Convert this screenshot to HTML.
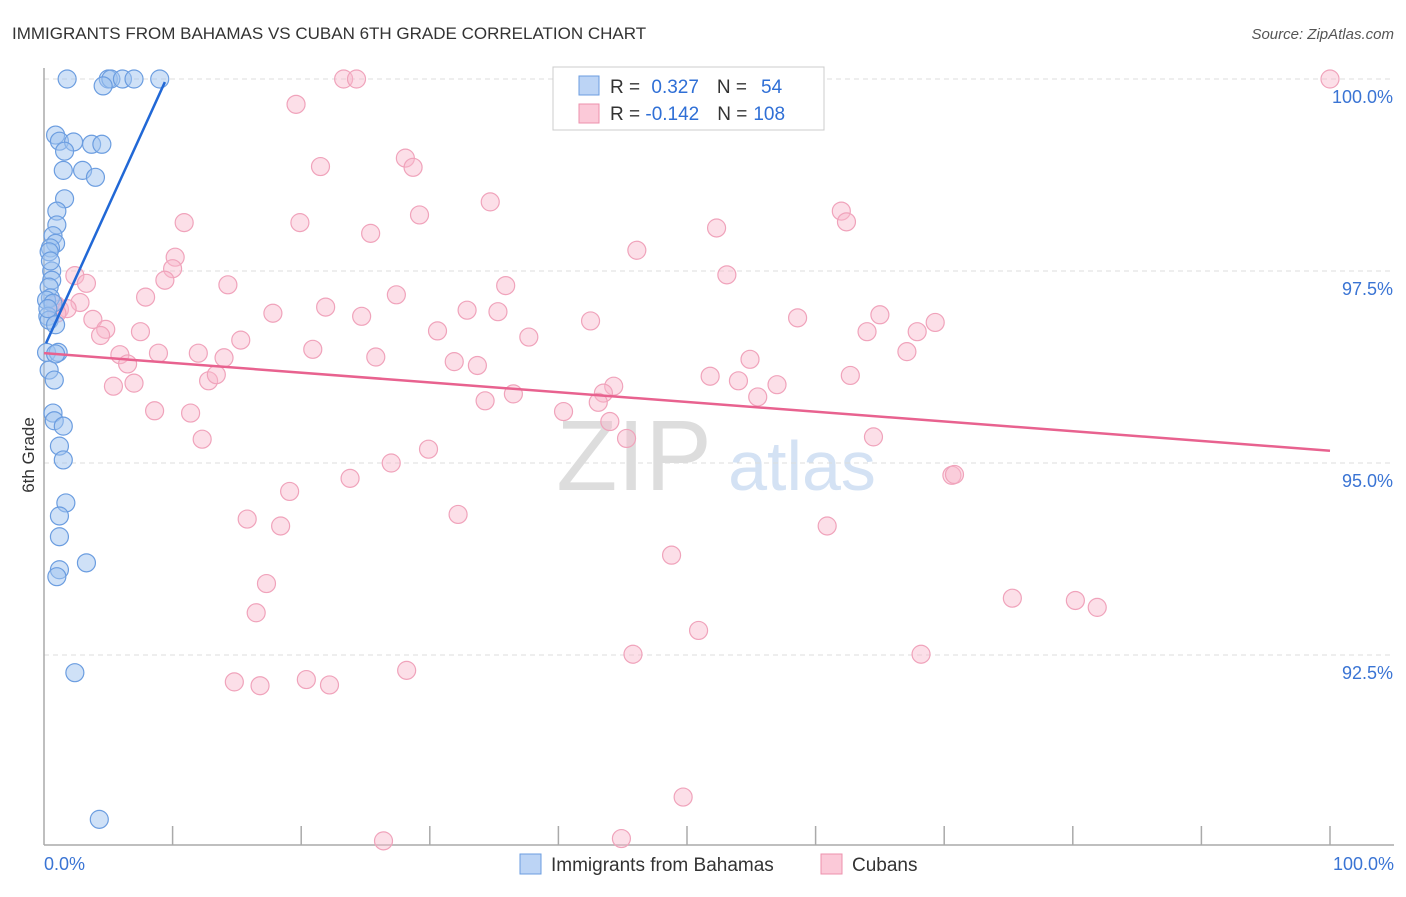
<!DOCTYPE html>
<html><head><meta charset="utf-8"><style>
body{margin:0;background:#fff;font-family:"Liberation Sans",sans-serif;}
svg text{font-family:"Liberation Sans",sans-serif;}
</style></head><body>
<svg width="1406" height="892" xmlns="http://www.w3.org/2000/svg">
<text x="12" y="39" font-size="17" fill="#333">IMMIGRANTS FROM BAHAMAS VS CUBAN 6TH GRADE CORRELATION CHART</text>
<text x="1394" y="39" font-size="15" fill="#555" font-style="italic" text-anchor="end">Source: ZipAtlas.com</text>
<text x="0" y="0" transform="translate(34,455) rotate(-90)" font-size="17" fill="#333" text-anchor="middle">6th Grade</text>
<text x="634" y="490" font-size="100" fill="#ddd" font-family="Liberation Serif" text-anchor="middle">ZIP</text>
<text x="802" y="490" font-size="70" fill="#d4e2f4" text-anchor="middle">atlas</text>
<g id="grid"></g><g id="axes"></g><g id="pts"></g><g id="lines"></g>
<g>
<rect x="553" y="67" width="271" height="63" fill="#fff" stroke="#ccc"/>
<rect x="579" y="76" width="20" height="19" fill="#bcd4f5" stroke="#6b9de0"/>
<rect x="579" y="104" width="20" height="19" fill="#fbc9d8" stroke="#ec91ad"/>
<text x="610" y="93" font-size="19" fill="#333">R = <tspan fill="#2f6fd6" dx="6">0.327</tspan><tspan dx="18" fill="#333">N =</tspan><tspan dx="14" fill="#2f6fd6">54</tspan></text>
<text x="610" y="120" font-size="19" fill="#333">R = <tspan fill="#2f6fd6">-0.142</tspan><tspan dx="18" fill="#333">N =</tspan><tspan dx="6" fill="#2f6fd6">108</tspan></text>
</g>
<g>
<rect x="520" y="854" width="21" height="20" fill="#bcd4f5" stroke="#6b9de0"/>
<text x="551" y="871" font-size="19" fill="#333">Immigrants from Bahamas</text>
<rect x="821" y="854" width="21" height="20" fill="#fbc9d8" stroke="#ec91ad"/>
<text x="852" y="871" font-size="19" fill="#333">Cubans</text>
</g>
</svg>
<script>
const yTicks=[100,97.5,95,92.5];
const yTickLabels=["100.0%","97.5%","95.0%","92.5%"];
const xTickLabels=["0.0%","100.0%"];
const bahamasX=[1.8,5.0,5.2,6.1,7.0,9.0,4.6,0.9,1.2,2.3,3.7,4.5,1.6,3.0,1.5,4.0,1.6,1.0,1.0,0.7,0.9,0.5,0.4,0.6,0.6,0.4,0.5,0.2,0.7,0.3,0.4,0.2,1.1,0.9,0.4,0.8,0.7,0.8,1.5,1.2,1.5,1.7,1.2,1.2,1.2,1.0,3.3,2.4,4.3,0.5,0.3,0.9];
const bahamasY=[100,100,100,100,100,100,99.91,99.27,99.19,99.18,99.15,99.15,99.06,98.81,98.81,98.72,98.44,98.28,98.10,97.96,97.86,97.80,97.75,97.50,97.38,97.29,97.15,97.12,97.08,96.91,96.86,96.44,96.44,96.42,96.21,96.08,95.65,95.55,95.48,95.22,95.04,94.48,94.31,94.04,93.61,93.52,93.70,92.27,90.36,97.63,97.01,96.80];
const cubanX=[23.3,24.3,100,19.6,21.5,28.1,28.7,34.7,29.2,10.9,19.9,25.4,52.3,62.0,62.4,46.1,10.2,10.0,9.4,2.4,3.3,7.9,14.3,2.8,0.9,1.2,1.8,1.0,3.8,4.8,4.4,7.5,17.8,21.9,24.7,27.4,32.9,35.3,35.9,42.5,30.6,37.7,15.3,20.9,8.9,5.9,12.0,14.0,25.8,31.9,33.7,6.5,5.4,7.0,12.8,13.4,51.8,54.0,54.9,57.0,55.5,58.6,65.0,64.0,67.9,69.3,67.1,62.7,44.3,43.5,36.5,34.3,43.1,40.4,44.0,45.3,8.6,11.4,12.3,29.9,27.0,23.8,19.1,15.8,18.4,32.2,64.5,70.6,70.8,60.9,48.8,17.3,16.5,75.3,80.2,81.9,50.9,45.8,68.2,28.2,14.8,16.8,20.4,22.2,49.7,26.4,44.9,53.1];
const cubanY=[100,100,100,99.67,98.86,98.97,98.85,98.40,98.23,98.13,98.13,97.99,98.06,98.28,98.14,97.77,97.68,97.53,97.38,97.44,97.34,97.16,97.32,97.09,97.06,97.00,97.01,96.95,96.87,96.74,96.66,96.71,96.95,97.03,96.91,97.19,96.99,96.97,97.31,96.85,96.72,96.64,96.60,96.48,96.43,96.41,96.43,96.37,96.38,96.32,96.27,96.29,96.00,96.04,96.07,96.15,96.13,96.07,96.35,96.02,95.86,96.89,96.93,96.71,96.71,96.83,96.45,96.14,96.00,95.91,95.90,95.81,95.79,95.67,95.54,95.32,95.68,95.65,95.31,95.18,95.00,94.80,94.63,94.27,94.18,94.33,95.34,94.84,94.85,94.18,93.80,93.43,93.05,93.24,93.21,93.12,92.82,92.51,92.51,92.30,92.15,92.10,92.18,92.11,90.65,90.08,90.11,97.45];
const bahamasLine=[[0.16,96.56],[9.4,99.96]];
const cubanLine=[[0,96.43],[100,95.16]];
const NS="http://www.w3.org/2000/svg";
const X0=44,X1=1330,Y100=79,PX=76.8;
function sx(v){return X0+(X1-X0)*v/100;}
function sy(v){return Y100+(100-v)*PX;}
function mk(t,a,p){const e=document.createElementNS(NS,t);for(const k in a)e.setAttribute(k,a[k]);document.getElementById(p).appendChild(e);return e;}
yTicks.forEach((t,i)=>{
 const l=mk('line',{x1:X0,x2:1394,y1:sy(t),y2:sy(t),stroke:'#ddd','stroke-dasharray':'5,4'},'grid');
 
 
 const tx=mk('text',{x:1393,y:sy(t)+24,'font-size':18,fill:'#3a74d4','text-anchor':'end'},'axes');
 tx.textContent=yTickLabels[i];
 
 
});
const ax=mk('line',{x1:X0,x2:X0,y1:68,y2:845,stroke:'#aaa','stroke-width':1.5},'axes');


const bx=mk('line',{x1:X0,x2:1394,y1:845,y2:845,stroke:'#aaa','stroke-width':1.5},'axes');


for(let i=1;i<=10;i++){
 const t=mk('line',{x1:sx(i*10),x2:sx(i*10),y1:826,y2:845,stroke:'#aaa','stroke-width':1.5},'axes');
 
 
}
[[0,'start',44],[100,'end',1394]].forEach((d,i)=>{
 const t=mk('text',{x:d[2],y:870,'font-size':18,fill:'#3a74d4','text-anchor':d[1]},'axes');
 t.textContent=xTickLabels[i];
 
 
});
cubanX.forEach((x,i)=>{
 const c=mk('circle',{cx:sx(x),cy:sy(cubanY[i]),r:9,fill:'rgba(248,183,203,0.45)',stroke:'#f0a3bb','stroke-width':1.2},'pts');
 
 
});
bahamasX.forEach((x,i)=>{
 const c=mk('circle',{cx:sx(x),cy:sy(bahamasY[i]),r:9,fill:'rgba(160,196,240,0.5)',stroke:'#6b9de0','stroke-width':1.2},'pts');
 
 
});
const bl=mk('line',{x1:sx(bahamasLine[0][0]),y1:sy(bahamasLine[0][1]),x2:sx(bahamasLine[1][0]),y2:sy(bahamasLine[1][1]),stroke:'#2168d6','stroke-width':2.5},'lines');


const cl=mk('line',{x1:sx(cubanLine[0][0]),y1:sy(cubanLine[0][1]),x2:sx(cubanLine[1][0]),y2:sy(cubanLine[1][1]),stroke:'#e8628f','stroke-width':2.5},'lines');


</script>
</body></html>
